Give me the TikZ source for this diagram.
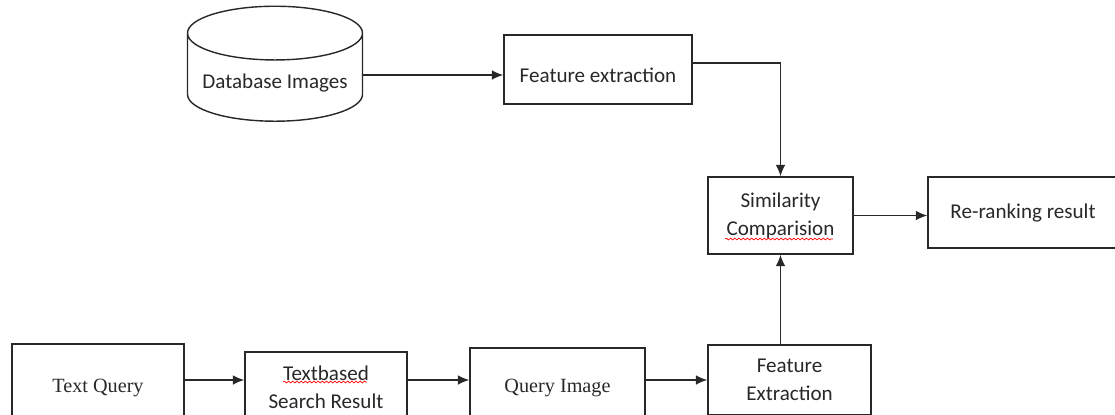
\documentclass[tikz,border=0pt]{standalone}
\usepackage{fontspec}
\setmainfont{Carlito}
\newfontfamily\timesfont{Liberation Serif}
\usepackage{xcolor}
\usetikzlibrary{shapes.geometric, arrows.meta, decorations.pathmorphing}

\definecolor{inkgray}{RGB}{40,40,40}

\begin{document}
\begin{tikzpicture}[x=0.02cm, y=-0.02cm, line width=0.8pt, draw=inkgray,
    text=inkgray, font=\fontsize{12}{16}\selectfont,
    box/.style={draw, rectangle, align=center, inner sep=0pt},
    store/.style={draw, cylinder, shape border rotate=90, aspect=0.37,
      minimum width=3.5cm, minimum height=2.3cm, inner sep=0pt},
    link/.style={-{Latex[length=6.5pt, width=5.5pt]}},
    spellwave/.style={draw=red, line width=0.4pt, decorate,
      decoration={snake, amplitude=0.5pt, segment length=2.4pt}}]
    \clip (0,0) rectangle (1115,414);

        \node[store] (dbimg) at (275,77.5) {\raisebox{-0.21cm}[0pt][0pt]{Database Images}};
        \node[box, minimum width=3.76cm, minimum height=1.38cm] (fext) at (598,69.5) {\raisebox{-0.25cm}[0pt][0pt]{Feature extraction}};

        \node[box, minimum width=2.9cm, minimum height=1.54cm] (simc) at (780.5,215.5) {Similarity\\Comparision};
        \node[box, minimum width=3.8cm, minimum height=1.42cm] (rerank) at (1023,212.5) {Re-ranking result};

        \node[box, minimum width=3.44cm, minimum height=1.76cm, font=\timesfont\fontsize{11.5}{14}\selectfont] (tquery) at (98,388) {Text Query};
        \node[box, minimum width=3.24cm, minimum height=1.4cm] (tsearch) at (326,387) {Textbased\\Search Result};
        \node[box, minimum width=3.5cm, minimum height=1.6cm, font=\timesfont\fontsize{11.5}{14}\selectfont] (qimage) at (557.5,388) {Query Image};
        \node[box, minimum width=3.26cm, minimum height=1.4cm] (fextq) at (789.5,380) {Feature\\Extraction};

        \draw[spellwave] ([xshift=-1.11cm,yshift=-0.47cm]simc.center) -- ([xshift=1.05cm,yshift=-0.47cm]simc.center);
        \draw[spellwave] ([xshift=-0.86cm,yshift=0.1cm]tsearch.center) -- ([xshift=0.82cm,yshift=0.1cm]tsearch.center);

        \draw[link] ([yshift=0.05cm]dbimg.east) -- ([yshift=0.05cm]dbimg.east -| fext.west);
        \draw[link] ([yshift=0.13cm]fext.east) -| (simc.north);
        \draw[link] (simc.east) -- (simc.east -| rerank.west);

        \draw[link] (tquery.east |- fextq.west) -- (tsearch.west |- fextq.west);
        \draw[link] (tsearch.east |- fextq.west) -- (qimage.west |- fextq.west);
        \draw[link] (qimage.east |- fextq.west) -- (fextq.west);
        \draw[link] (simc.south |- fextq.north) -- (simc.south);
    \end{tikzpicture}
\end{document}
